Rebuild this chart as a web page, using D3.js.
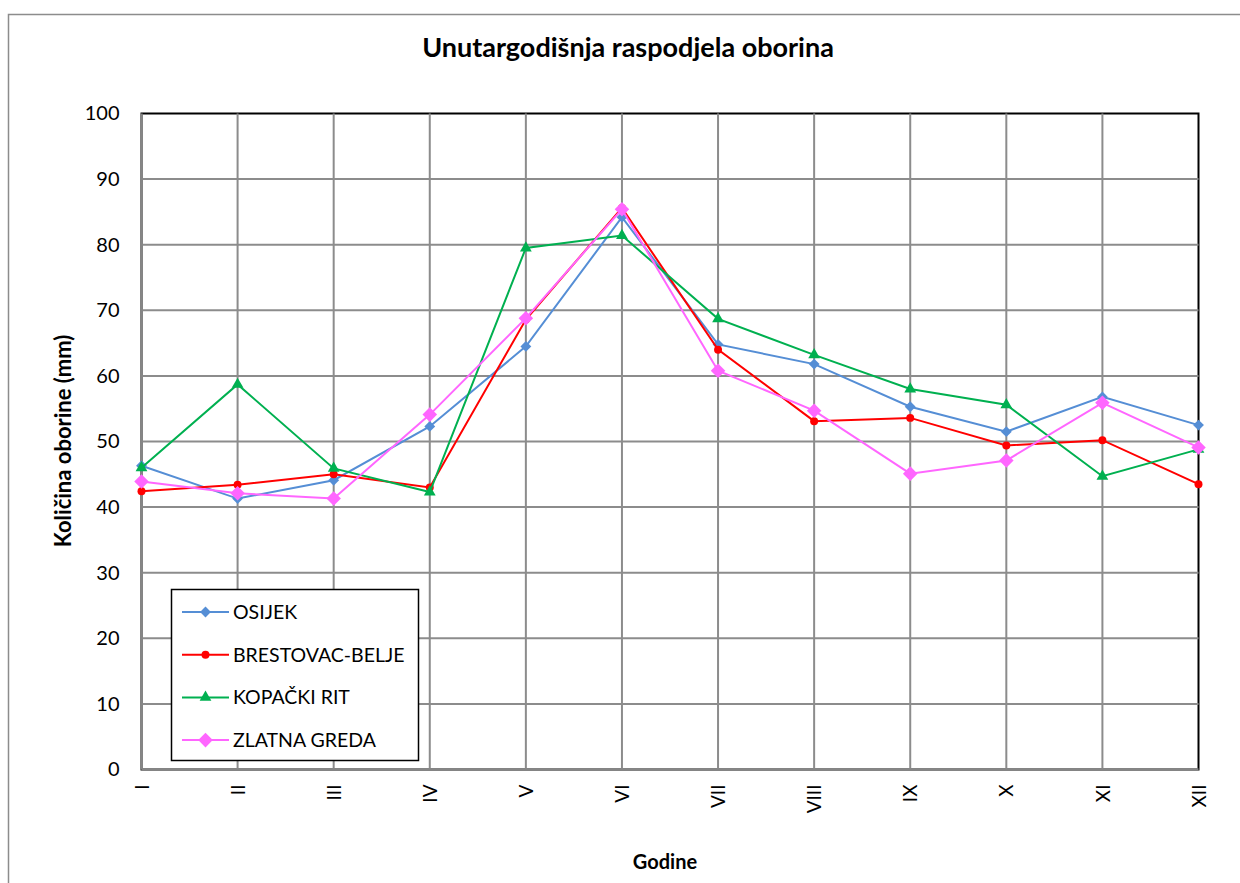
<!DOCTYPE html>
<html>
<head>
<meta charset="utf-8">
<script src="https://cdn.jsdelivr.net/npm/d3@7"></script>
<style>
  html, body { margin: 0; padding: 0; background: #fff; }
  svg { display: block; }
  text { font-family: Lato, "Open Sans", sans-serif; fill: #000; }
</style>
</head>
<body>
<svg id="chart" width="1240" height="883"></svg>
<script>
// Monthly precipitation (mm) per station
const months = ["I", "II", "III", "IV", "V", "VI", "VII", "VIII", "IX", "X", "XI", "XII"];
const osijek = [46.3, 41.3, 44.1, 52.3, 64.5, 84.2, 64.8, 61.8, 55.3, 51.5, 56.8, 52.5];
const brestovacBelje = [42.4, 43.4, 45.0, 43.0, 68.6, 85.6, 64.0, 53.1, 53.6, 49.4, 50.2, 43.5];
const kopackiRit = [46.0, 58.7, 45.9, 42.3, 79.5, 81.4, 68.7, 63.2, 58.0, 55.6, 44.7, 48.8];
const zlatnaGreda = [43.9, 42.1, 41.3, 54.1, 68.8, 85.4, 60.8, 54.7, 45.1, 47.1, 55.9, 49.1];
const yTicks = [0, 10, 20, 30, 40, 50, 60, 70, 80, 90, 100];

const series = [
  { name: "OSIJEK", values: osijek, color: "#558ed5", marker: "diamond", size: 75 },
  { name: "BRESTOVAC-BELJE", values: brestovacBelje, color: "#ff0000", marker: "circle", size: 50 },
  { name: "KOPAČKI RIT", values: kopackiRit, color: "#00b050", marker: "triangle", size: 60 },
  { name: "ZLATNA GREDA", values: zlatnaGreda, color: "#ff66ff", marker: "diamond", size: 135 }
];

const svg = d3.select("#chart");
const W = 1240, H = 883;
const plot = { left: 141.5, top: 113.5, right: 1198.5, bottom: 769.5 };

// outer chart frame
svg.append("rect")
  .attr("x", 8.5).attr("y", 14.5)
  .attr("width", W + 10).attr("height", H + 10)
  .attr("fill", "#fff").attr("stroke", "#8c8c8c").attr("stroke-width", 1.5);

const x = d3.scalePoint().domain(months).range([plot.left, plot.right]);
const y = d3.scaleLinear().domain([0, 100]).range([plot.bottom, plot.top]);

// plot area border (top / right)
svg.append("rect")
  .attr("x", plot.left).attr("y", plot.top)
  .attr("width", plot.right - plot.left).attr("height", plot.bottom - plot.top)
  .attr("fill", "#fff").attr("stroke", "#000").attr("stroke-width", 2);

// horizontal gridlines
svg.append("g")
  .selectAll("line")
  .data(yTicks.filter(d => d > 0 && d < 100))
  .join("line")
  .attr("x1", plot.left).attr("x2", plot.right)
  .attr("y1", d => y(d)).attr("y2", d => y(d))
  .attr("stroke", "#8c8c8c").attr("stroke-width", 2);

// vertical gridlines
svg.append("g")
  .selectAll("line")
  .data(months.slice(1, -1))
  .join("line")
  .attr("x1", d => x(d)).attr("x2", d => x(d))
  .attr("y1", plot.top).attr("y2", plot.bottom)
  .attr("stroke", "#8c8c8c").attr("stroke-width", 2);

// left and bottom axis lines
svg.append("line")
  .attr("x1", plot.left).attr("x2", plot.left)
  .attr("y1", plot.top).attr("y2", plot.bottom)
  .attr("stroke", "#868686").attr("stroke-width", 2.5);
svg.append("line")
  .attr("x1", plot.left).attr("x2", plot.right)
  .attr("y1", plot.bottom).attr("y2", plot.bottom)
  .attr("stroke", "#868686").attr("stroke-width", 2.5);

// y axis
const yAxis = svg.append("g")
  .attr("transform", `translate(${plot.left},0)`)
  .call(d3.axisLeft(y).tickValues(yTicks).tickSize(0).tickPadding(22));
yAxis.select(".domain").remove();
yAxis.selectAll("text")
  .style("font-family", "Lato, 'Open Sans', sans-serif")
  .style("font-size", "20px").attr("fill", "#000");

// x axis labels, rotated
const xAxis = svg.append("g")
  .attr("transform", `translate(0,${plot.bottom})`)
  .call(d3.axisBottom(x).tickSize(0).tickPadding(0));
xAxis.select(".domain").remove();
xAxis.selectAll("text")
  .attr("transform", "rotate(-90)")
  .attr("x", -15).attr("y", 0).attr("dy", "0.35em")
  .attr("text-anchor", "end")
  .style("font-family", "Lato, 'Open Sans', sans-serif")
  .style("font-size", "19px").attr("fill", "#000");

// series lines and markers (square diamonds, round dots, triangles)
const symbolType = {
  diamond: d3.symbolDiamond2 || d3.symbolDiamond,
  circle: d3.symbolCircle,
  triangle: d3.symbolTriangle
};
const line = d3.line().x((d, i) => x(months[i])).y(d => y(d));

series.forEach(s => {
  svg.append("path")
    .datum(s.values)
    .attr("d", line)
    .attr("fill", "none")
    .attr("stroke", s.color)
    .attr("stroke-width", 2);
  svg.append("g")
    .selectAll("path")
    .data(s.values)
    .join("path")
    .attr("transform", (d, i) => `translate(${x(months[i])},${y(d)})`)
    .attr("d", d3.symbol().type(symbolType[s.marker]).size(s.size))
    .attr("fill", s.color);
});

// legend
const legend = svg.append("g");
legend.append("rect")
  .attr("x", 171.5).attr("y", 589.5).attr("width", 247).attr("height", 171)
  .attr("fill", "#fff").attr("stroke", "#000").attr("stroke-width", 1.5);
series.forEach((s, i) => {
  const ly = 612 + i * 42.7;
  legend.append("line")
    .attr("x1", 182).attr("x2", 229).attr("y1", ly).attr("y2", ly)
    .attr("stroke", s.color).attr("stroke-width", 2);
  legend.append("path")
    .attr("transform", `translate(205.5,${ly})`)
    .attr("d", d3.symbol().type(symbolType[s.marker]).size(s.size))
    .attr("fill", s.color);
  legend.append("text")
    .attr("x", 233).attr("y", ly).attr("dy", "0.35em")
    .style("font-size", "19.5px")
    .text(s.name);
});

// titles
svg.append("text")
  .attr("x", 628).attr("y", 48).attr("dy", "0.35em")
  .attr("text-anchor", "middle")
  .style("font-size", "27px").style("font-weight", "bold")
  .text("Unutargodišnja raspodjela oborina");

svg.append("text")
  .attr("x", 665).attr("y", 862).attr("dy", "0.35em")
  .attr("text-anchor", "middle")
  .style("font-size", "20px").style("font-weight", "bold")
  .text("Godine");

svg.append("text")
  .attr("transform", "translate(63,441) rotate(-90)")
  .attr("dy", "0.35em")
  .attr("text-anchor", "middle")
  .style("font-size", "22px").style("font-weight", "bold")
  .text("Količina oborine (mm)");
</script>
</body>
</html>
